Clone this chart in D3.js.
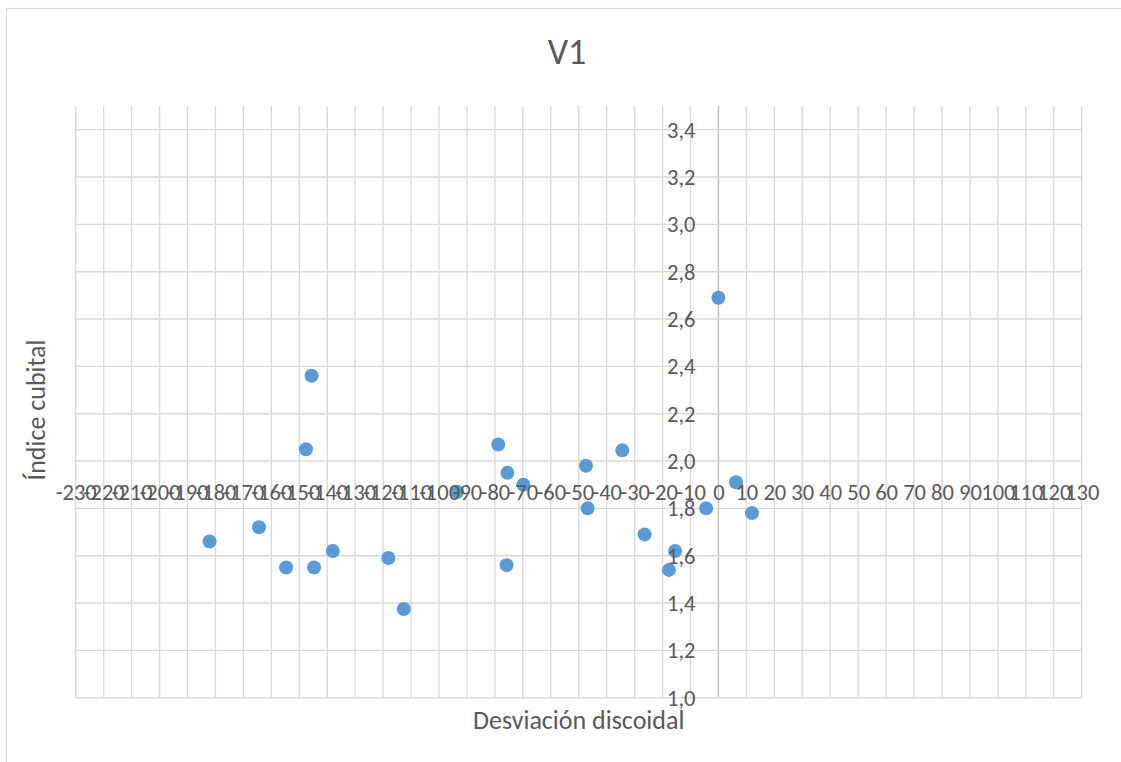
<!DOCTYPE html>
<html>
<head>
<meta charset="utf-8">
<script src="https://cdn.jsdelivr.net/npm/d3@7/dist/d3.min.js"></script>
<style>
  html, body { margin: 0; padding: 0; background: #fff; }
  svg { display: block; font-family: Carlito, Calibri, Lato, sans-serif; }
</style>
</head>
<body>
<div id="chart"></div>
<script>
// Scatter: cubital index vs. discoidal deviation (sample V1)
const chartTitle = "V1";
const xTitle = "Desviación discoidal";
const yTitle = "Índice cubital";

const desviacion = [0, -145.6, -147.6, -182.1, -164.4, -154.7, -144.7, -138.0,
  -118.1, -112.6, -93.5, -78.8, -75.5, -69.8, -75.8, -47.4, -46.8, -34.4,
  -26.4, -15.5, -17.7, -4.4, 6.3, 12.0];
const indiceCubital = [2.69, 2.36, 2.05, 1.66, 1.72, 1.55, 1.55, 1.62,
  1.59, 1.375, 1.87, 2.07, 1.95, 1.90, 1.56, 1.98, 1.80, 2.045,
  1.69, 1.62, 1.54, 1.80, 1.91, 1.78];

const xTicks = d3.range(-230, 131, 10);
const yTicks = d3.range(1.0, 3.41, 0.2).map(v => +v.toFixed(1));

const W = 1121, H = 762;
const plot = { left: 75.7, right: 1081.7, top: 106, bottom: 697.7 };
const fontStack = "Carlito, Calibri, Lato, sans-serif";

const svg = d3.select("#chart").append("svg")
  .attr("width", W).attr("height", H);

// chart frame
svg.append("rect")
  .attr("x", 6.5).attr("y", 8.5)
  .attr("width", W + 20).attr("height", H + 20)
  .attr("fill", "#fff").attr("stroke", "#d9d9d9").attr("stroke-width", 1.2);

const x = d3.scaleLinear().domain([-230, 130]).range([plot.left, plot.right]);
const y = d3.scaleLinear().domain([1.0, 3.5]).range([plot.bottom, plot.top]);

const grid = svg.append("g").attr("stroke", "#d9d9d9").attr("stroke-width", 1.4);
grid.selectAll("line.v").data(xTicks).join("line")
  .attr("class", "v")
  .attr("x1", d => x(d)).attr("x2", d => x(d))
  .attr("y1", plot.top).attr("y2", plot.bottom)
  .attr("stroke", d => d === 0 ? "#bfbfbf" : "#d9d9d9");
grid.selectAll("line.h").data(yTicks).join("line")
  .attr("class", "h")
  .attr("x1", plot.left).attr("x2", plot.right)
  .attr("y1", d => y(d)).attr("y2", d => y(d));

// points
svg.append("g").selectAll("circle")
  .data(desviacion.map((d, i) => [d, indiceCubital[i]]))
  .join("circle")
  .attr("cx", d => x(d[0])).attr("cy", d => y(d[1]))
  .attr("r", 7).attr("fill", "#5b9bd5");

// horizontal axis labels (axis crosses at 1.9, line hidden)
const xAxis = d3.axisBottom(x).tickValues(xTicks).tickSize(0).tickPadding(0)
  .tickFormat(d => String(d));
const gx = svg.append("g").attr("transform", `translate(0,${y(1.9)})`).call(xAxis);
gx.select(".domain").remove();
gx.selectAll("text")
  .attr("dy", null).attr("y", 0)
  .attr("dominant-baseline", "central")
  .attr("transform", `translate(0,${492.5 - y(1.9)})`)
  .attr("fill", "#595959").attr("font-size", 22.5)
  .attr("font-family", fontStack);

// vertical axis labels at x = 0
const yAxis = d3.axisLeft(y).tickValues(yTicks).tickSize(0).tickPadding(23)
  .tickFormat(d => d3.format(".1f")(d).replace(".", ","));
const gy = svg.append("g").attr("transform", `translate(${x(0)},0)`).call(yAxis);
gy.select(".domain").remove();
gy.selectAll("text")
  .attr("dy", null).attr("dominant-baseline", "central")
  .attr("fill", "#595959").attr("font-size", 22.5)
  .attr("font-family", fontStack);

// titles
svg.append("text")
  .attr("x", 567).attr("y", 52)
  .attr("text-anchor", "middle").attr("dominant-baseline", "central")
  .attr("fill", "#595959").attr("font-size", 36).attr("font-weight", 300)
  .text(chartTitle);

svg.append("text")
  .attr("x", (plot.left + plot.right) / 2).attr("y", 720)
  .attr("text-anchor", "middle").attr("dominant-baseline", "central")
  .attr("fill", "#595959").attr("font-size", 26)
  .text(xTitle);

svg.append("text")
  .attr("transform", `translate(36,${410}) rotate(-90)`)
  .attr("text-anchor", "middle").attr("dominant-baseline", "central")
  .attr("fill", "#595959").attr("font-size", 26)
  .text(yTitle);
</script>
</body>
</html>
